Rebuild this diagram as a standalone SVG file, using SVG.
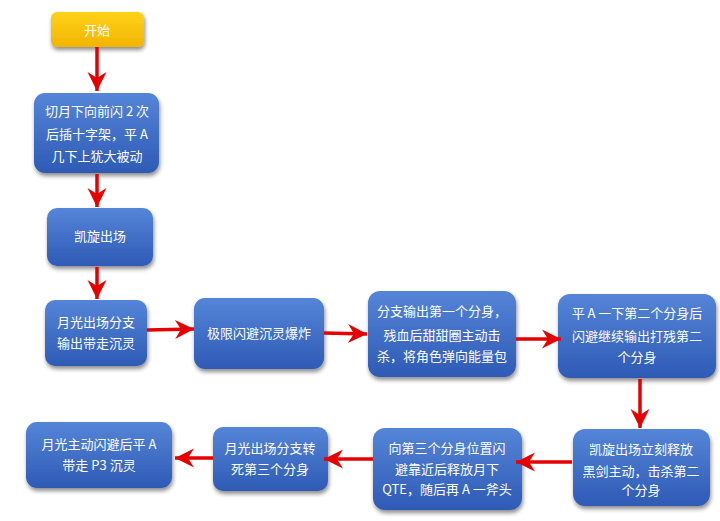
<svg xmlns="http://www.w3.org/2000/svg" width="720" height="521" viewBox="0 0 720 521">
<defs>
<linearGradient id="gBlue" x1="0" y1="0" x2="0" y2="1">
<stop offset="0" stop-color="#5585D8"/>
<stop offset="1" stop-color="#2E5AB5"/>
</linearGradient>
<linearGradient id="gYellow" x1="0" y1="0" x2="0" y2="1">
<stop offset="0" stop-color="#FFD21A"/>
<stop offset="1" stop-color="#F2B400"/>
</linearGradient>
<filter id="sh" x="-10%" y="-10%" width="125%" height="130%">
<feGaussianBlur in="SourceAlpha" stdDeviation="2"/>
<feOffset dx="1" dy="3" result="b"/>
<feComponentTransfer><feFuncA type="linear" slope="0.45"/></feComponentTransfer>
<feMerge><feMergeNode/><feMergeNode in="SourceGraphic"/></feMerge>
</filter>
<marker id="ah" viewBox="-20 -10 21 20" refX="0" refY="0" markerWidth="21" markerHeight="20" markerUnits="userSpaceOnUse" orient="auto">
<path d="M0,0 L-19,-9.5 L-13,0 L-19,9.5 Z" fill="#E60000"/>
</marker>
</defs>
<style>
.n{fill:url(#gBlue);filter:url(#sh)}
.y{fill:url(#gYellow);filter:url(#sh)}
text{font-family:"Noto Sans CJK SC","Liberation Sans",sans-serif;font-size:13px;fill:#FFFFFF;text-anchor:middle}
.c{stroke:#E60000;stroke-width:3.5;fill:none;marker-end:url(#ah)}
</style>
<rect width="720" height="521" fill="#FFFFFF"/>
<g id="start"><rect class="y" x="51" y="12" width="93" height="35" rx="6"/><text x="97" y="35">开始</text></g>
<g id="n1"><rect class="n" x="34" y="93" width="125" height="80" rx="11"/>
<text x="97" y="116">切月下向前闪 2 次</text><text x="97" y="139">后插十字架，平 A</text><text x="97" y="161">几下上犹大被动</text></g>
<g id="n2"><rect class="n" x="47" y="208" width="106" height="58" rx="10"/><text x="100" y="241">凯旋出场</text></g>
<g id="n3"><rect class="n" x="45" y="300" width="102" height="66" rx="10"/>
<text x="96" y="327">月光出场分支</text><text x="96" y="348">输出带走沉灵</text></g>
<g id="n4"><rect class="n" x="194" y="298" width="130" height="71" rx="11"/><text x="259" y="338">极限闪避沉灵爆炸</text></g>
<g id="n5"><rect class="n" x="368" y="291" width="148" height="86" rx="12"/>
<text x="442" y="316">分支输出第一个分身，</text><text x="442" y="340">残血后甜甜圈主动击</text><text x="442" y="361">杀，将角色弹向能量包</text></g>
<g id="n6"><rect class="n" x="558" y="294" width="158" height="84" rx="12"/>
<text x="637" y="318">平 A 一下第二个分身后</text><text x="637" y="341">闪避继续输出打残第二</text><text x="637" y="362">个分身</text></g>
<g id="n7"><rect class="n" x="573" y="429" width="137" height="77" rx="12"/>
<text x="641" y="454">凯旋出场立刻释放</text><text x="641" y="476">黑剑主动，击杀第二</text><text x="641" y="495">个分身</text></g>
<g id="n8"><rect class="n" x="373" y="428" width="149" height="82" rx="12"/>
<text x="447" y="453">向第三个分身位置闪</text><text x="447" y="474">避靠近后释放月下</text><text x="447" y="494">QTE，随后再 A 一斧头</text></g>
<g id="n9"><rect class="n" x="213" y="427" width="115" height="64" rx="10"/>
<text x="270" y="453">月光出场分支转</text><text x="270" y="474">死第三个分身</text></g>
<g id="n10"><rect class="n" x="26" y="422" width="146" height="66" rx="11"/>
<text x="99" y="449">月光主动闪避后平 A</text><text x="99" y="470">带走 P3 沉灵</text></g>
<g id="connectors">
<path class="c" d="M97,47 L97,91"/>
<path class="c" d="M97,174 L97,207"/>
<path class="c" d="M97,267 L97,299"/>
<path class="c" d="M147,330 L194,329"/>
<path class="c" d="M324,333 L367,334"/>
<path class="c" d="M516,339 L561,339"/>
<path class="c" d="M640,379 L640,428"/>
<path class="c" d="M572,462 L516,462"/>
<path class="c" d="M373,459 L324,459"/>
<path class="c" d="M213,458 L175,458"/>
</g>
</svg>
